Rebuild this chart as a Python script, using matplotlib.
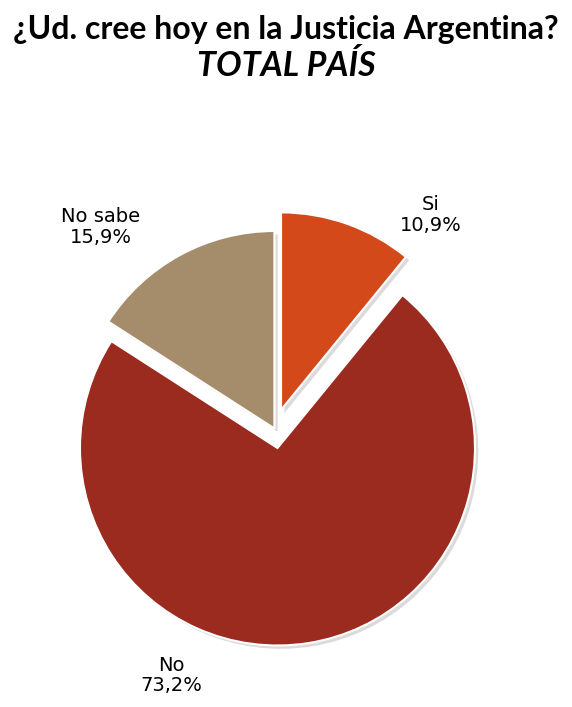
import matplotlib.pyplot as plt

# answers, clockwise from 12 o'clock
labels = ['Si', 'No', 'No sabe']
values = [10.9, 73.2, 15.9]
pct_text = ['10,9%', '73,2%', '15,9%']
cols = ['#D4491A', '#9B2B1F', '#A58D6C']
explode = [0.1, 0.1, 0]

# label spots (pie radius = 1)
label_pos = [(0.79, 1.08), (-0.52, -1.25), (-0.88, 1.02)]

fig = plt.figure(figsize=(5.72, 7.07), dpi=100)
ax = fig.add_axes([0, 0, 1, 1])

wedges, _ = ax.pie(values, colors=cols, explode=explode, startangle=90,
                   counterclock=False, radius=1,
                   wedgeprops={'edgecolor': 'white', 'linewidth': 1.5},
                   shadow={'ox': 0.012, 'oy': -0.012, 'facecolor': '#9a9a9a',
                           'edgecolor': 'none', 'alpha': 0.35, 'zorder': 0})

for i in range(len(labels)):
    x, y = label_pos[i]
    ax.text(x, y, labels[i] + '\n' + pct_text[i], ha='center', va='center',
            fontsize=14, family='DejaVu Sans', linespacing=1.1)

ax.set_aspect('auto')
ax.set_xlim(-274.4 / 197.5, (572 - 274.4) / 197.5)
ax.set_ylim(-(707 - 428.5) / 197.5, 428.5 / 197.5)
ax.axis('off')

fig.text(0.5, 1 - 30 / 707, '¿Ud. cree hoy en la Justicia Argentina?', ha='center',
         va='center', fontsize=23, fontweight='bold', family='Lato')
fig.text(0.5, 1 - 66 / 707, 'TOTAL PAÍS', ha='center', va='center', fontsize=24.5,
         fontweight='bold', fontstyle='italic', family='Lato')

fig.savefig('out.png', dpi=100, facecolor='white')
